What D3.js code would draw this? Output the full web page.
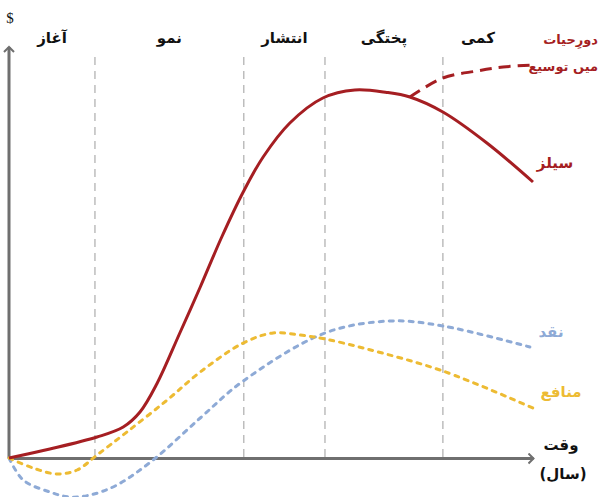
<!DOCTYPE html>
<html><head><meta charset="utf-8">
<script src="https://cdn.jsdelivr.net/npm/d3@7"></script>
<style>html,body{margin:0;padding:0;background:#fff;}svg{display:block;}</style>
</head><body>
<script>
// ---- data ----
const stages = ["آغاز", "نمو", "انتشار", "پختگی", "کمی"];
const stageBounds = [0, 16.4, 44.8, 60.3, 82.8, 100];
const salesX = [0, 7.8, 16.8, 21.8, 25.0, 28.2, 32.6, 36.5, 40.6, 44.7, 48.5, 53.6, 59.9, 66.0, 72.1, 76.5, 82.8, 91.2, 100];
const salesY = [0, 2.25, 5.25, 7.75, 11.5, 18.5, 31.25, 42.75, 55.25, 66.5, 75.25, 83.75, 90, 92, 91.4, 90.25, 86.5, 78.75, 69];
const extX = [76.5, 82.8, 89.3, 94.3, 100];
const extY = [90.25, 95, 96.75, 97.75, 98.25];
const profitX = [0, 4.6, 9.2, 13, 16.8, 22.5, 30.2, 36.5, 44.7, 50.4, 55.5, 60.3, 68.3, 82.8, 100];
const profitY = [0, -2.5, -4, -3, 0.75, 6.5, 14.5, 21.5, 28.75, 31.25, 30.75, 29.75, 27.25, 21.75, 12.5];
const cashX = [0, 2.7, 7.8, 11.6, 15.5, 20.6, 27.5, 36.5, 44.7, 60.3, 72.7, 82.8, 99.4];
const cashY = [0, -5.5, -8.5, -9.75, -9.25, -6.75, -0.5, 10, 19.25, 31.25, 34.25, 33, 27.75];
const extLabel = ["دورِحیات", "میں توسیع"];
const salesLabel = "سیلز", cashLabel = "نقد", profitLabel = "منافع";
const xLabel = ["وقت", "(سال)"], yLabel = "$";

// ---- drawing ----
const W = 601, H = 497;
const RED = "#A51E22", YEL = "#EDBB33", BLU = "#8EAAD6", AX = "#6f6f6f";
const svg = d3.select("body").append("svg").attr("width", W).attr("height", H);
const x = d3.scaleLinear().domain([0, 100]).range([9, 533]);
const y = d3.scaleLinear().domain([0, 100]).range([458, 58]);
const yTop = 102.75; // top of y axis in data units

const defs = svg.append("defs");
defs.append("marker").attr("id", "arr").attr("viewBox", "-6 -6 12 12")
  .attr("refX", 0).attr("refY", 0).attr("markerWidth", 12).attr("markerHeight", 12)
  .attr("markerUnits", "userSpaceOnUse").attr("orient", "auto")
  .append("path").attr("d", "M-5,-5 L0,0 L-5,5").attr("fill", "none")
  .attr("stroke", AX).attr("stroke-width", 2);

// dividers
svg.append("g").selectAll("line").data(stageBounds.slice(1, -1)).join("line")
  .attr("x1", d => x(d)).attr("x2", d => x(d)).attr("y1", 57).attr("y2", y(0))
  .attr("stroke", "#bdbdbd").attr("stroke-width", 1.5).attr("stroke-dasharray", "8,6");

// stage labels
svg.append("g").selectAll("text").data(stages).join("text")
  .attr("x", (d, i) => x((stageBounds[i] + stageBounds[i + 1]) / 2) - (i === 4 ? 10 : 0))
  .attr("y", 43).attr("text-anchor", "middle")
  .attr("font-family", "DejaVu Sans").attr("font-size", 15).attr("font-weight", "bold")
  .attr("fill", "#111").text(d => d);

const line = (xs, ys) => d3.line().x(i => x(xs[i])).y(i => y(ys[i]))
  .curve(d3.curveCatmullRom.alpha(0.5))(d3.range(xs.length));

// axes
const xAxis = svg.append("g").attr("transform", `translate(0,${y(0)})`)
  .call(d3.axisBottom(x).ticks(0).tickSizeOuter(0));
xAxis.select(".domain").attr("stroke", AX).attr("stroke-width", 3).attr("marker-end", "url(#arr)");
const yAxis = svg.append("g").attr("transform", `translate(${x(0)},0)`)
  .call(d3.axisLeft(y.copy().domain([0, yTop]).range([y(0), y(yTop)])).ticks(0).tickSizeOuter(0));
yAxis.select(".domain").attr("stroke", AX).attr("stroke-width", 3)
  .attr("d", `M0,${y(0)}V${y(yTop)}`).attr("marker-end", "url(#arr)");

// series
svg.append("path").attr("d", line(cashX, cashY)).attr("fill", "none").attr("stroke", BLU)
  .attr("stroke-width", 3).attr("stroke-dasharray", "4,6").attr("stroke-linecap", "round");
svg.append("path").attr("d", line(profitX, profitY)).attr("fill", "none").attr("stroke", YEL)
  .attr("stroke-width", 3).attr("stroke-dasharray", "4,6").attr("stroke-linecap", "round");
svg.append("path").attr("d", line(extX, extY)).attr("fill", "none").attr("stroke", RED)
  .attr("stroke-width", 3).attr("stroke-dasharray", "12,7");
svg.append("path").attr("d", line(salesX, salesY)).attr("fill", "none").attr("stroke", RED)
  .attr("stroke-width", 3);

// labels
const lab = (t, px, py, col, size, anchor) => svg.append("text").attr("x", px).attr("y", py)
  .attr("text-anchor", anchor || "middle").attr("font-family", "DejaVu Sans")
  .attr("font-size", size).attr("font-weight", "bold").attr("fill", col).text(t);
lab(extLabel[0], 598, 44, RED, 13, "end");
lab(extLabel[1], 598, 71, RED, 13, "end");
lab(salesLabel, 555, 168, RED, 15);
lab(cashLabel, 551, 337, BLU, 15);
lab(profitLabel, 561, 397, YEL, 15);
lab(xLabel[0], 561, 450, "#111", 15);
lab(xLabel[1], 563, 479, "#111", 15);
svg.append("text").attr("x", 10).attr("y", 23).attr("text-anchor", "middle")
  .attr("font-family", "Liberation Serif").attr("font-size", 15).attr("fill", "#111").text(yLabel);
</script>
</body></html>
